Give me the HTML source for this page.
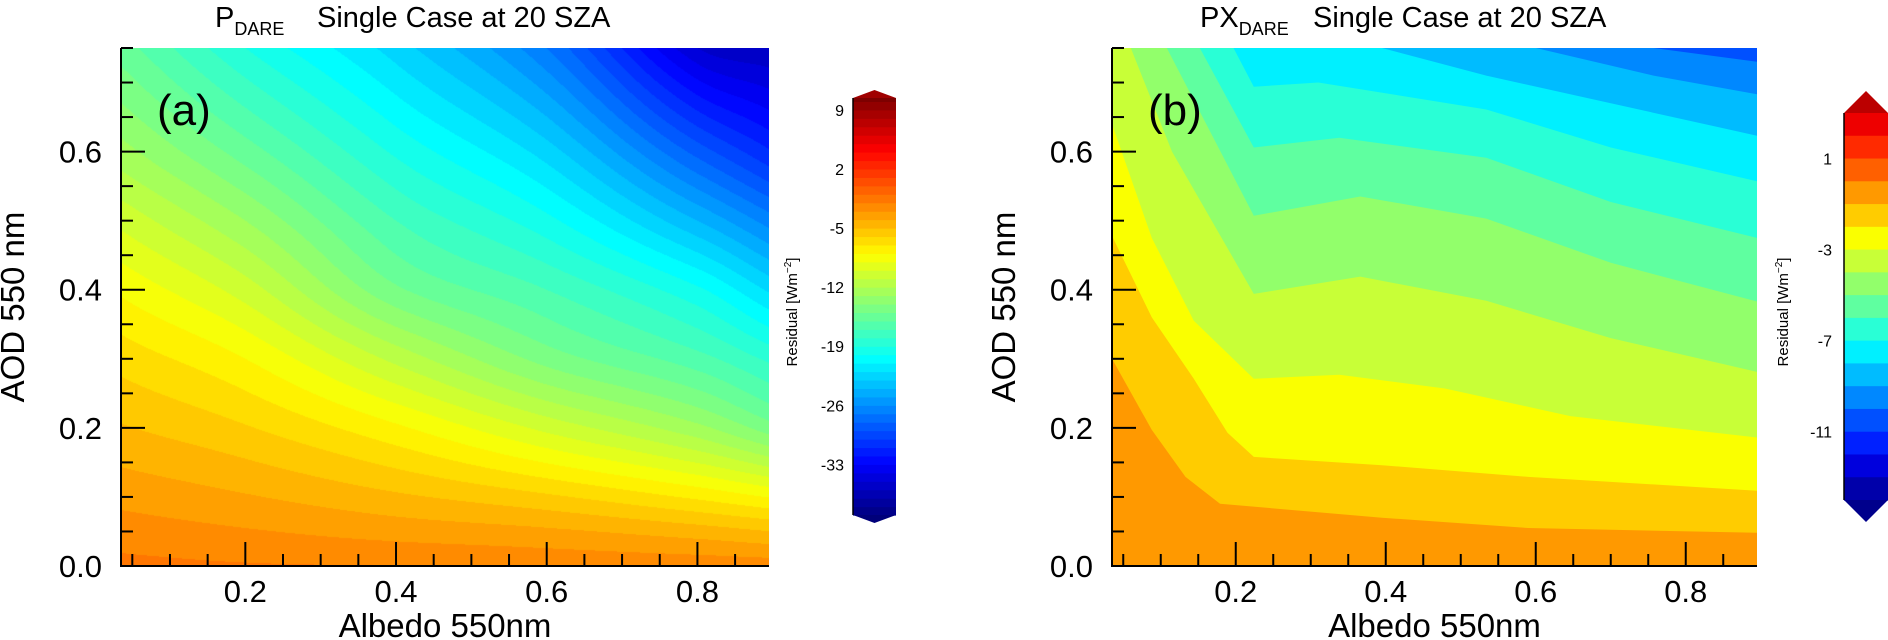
<!DOCTYPE html>
<html><head><meta charset="utf-8"><style>
html,body{margin:0;padding:0;background:#fff;}
#root{position:relative;width:1888px;height:640px;overflow:hidden;font-family:"Liberation Sans",sans-serif;}
canvas{position:absolute;left:121px;top:48px;}
svg{position:absolute;left:0;top:0;}
</style></head><body>
<div id="root">
<canvas id="cva" width="648" height="518"></canvas>
<svg id="svg" width="1888" height="640"></svg>
</div>
<script>
// ---------- Panel (a) data ----------
const albedoA = [0.035, 0.2, 0.4, 0.6, 0.8, 0.9];
const aodA = [0, 0.05, 0.1, 0.2, 0.3, 0.4, 0.5, 0.6, 0.75];
// rows = aod, columns = albedo
const residualA = [
  [-1.7, -1.9, -2.0, -2.2, -2.3, -2.4],
  [-2.5, -2.9, -3.4, -3.8, -4.5, -5.0],
  [-3.3, -3.9, -4.8, -5.8, -7.2, -8.1],
  [-4.9, -5.9, -7.8, -10.3, -12.7, -14.6],
  [-6.4, -8.0, -11.3, -14.4, -16.6, -18.3],
  [-8.2, -10.5, -14.8, -17.0, -19.8, -22.3],
  [-10.3, -13.0, -17.0, -19.7, -24.0, -26.6],
  [-12.6, -15.5, -19.2, -22.5, -28.4, -31.0],
  [-15.5, -19.0, -22.5, -27.0, -35.0, -36.0]
];
const cbarATicks = [9, 2, -5, -12, -19, -26, -33];
const cbarAMin = -39, cbarAMax = 10.4;

// ---------- Panel (b) data ----------
const levelsB = [-1, -2, -3, -4, -5, -6, -7, -8, -9, -10];
const boundaryB1 = [[0.035,0.30],[0.088,0.197],[0.133,0.129],[0.179,0.09],[0.395,0.07],[0.59,0.055],[0.895,0.048]];
const boundaryB2 = [[0.035,0.478],[0.088,0.36],[0.144,0.271],[0.189,0.193],[0.224,0.158],[0.395,0.146],[0.59,0.129],[0.895,0.109]];
const boundaryB3 = [[0.035,0.64],[0.088,0.475],[0.144,0.355],[0.224,0.271],[0.338,0.277],[0.479,0.257],[0.646,0.217],[0.895,0.186]];
const boundaryB4 = [[0.06,0.75],[0.115,0.60],[0.224,0.394],[0.366,0.419],[0.534,0.384],[0.70,0.33],[0.895,0.281]];
const boundaryB5 = [[0.108,0.75],[0.224,0.507],[0.366,0.535],[0.534,0.503],[0.70,0.439],[0.895,0.383]];
const boundaryB6 = [[0.152,0.75],[0.224,0.606],[0.338,0.62],[0.534,0.591],[0.70,0.527],[0.895,0.475]];
const boundaryB7 = [[0.197,0.75],[0.224,0.694],[0.31,0.70],[0.534,0.661],[0.70,0.606],[0.895,0.557]];
const boundaryB8 = [[0.395,0.75],[0.534,0.71],[0.70,0.67],[0.895,0.623]];
const boundaryB9 = [[0.60,0.75],[0.757,0.71],[0.895,0.683]];
const boundaryB10 = [[0.757,0.75],[0.895,0.73]];
const cbarBTicks = [1, -3, -7, -11];
const cbarBMin = -14, cbarBMax = 3;

const NS = "http://www.w3.org/2000/svg";
const svg = document.getElementById('svg');
function el(tag, attrs, parent){const e=document.createElementNS(NS,tag);for(const k in attrs)e.setAttribute(k,attrs[k]);(parent||svg).appendChild(e);return e;}
function txt(s, attrs, parent){const e=el('text',attrs,parent);e.textContent=s;return e;}

function jet(t){const c=v=>Math.max(0,Math.min(1,v));
  return [c(1.5-Math.abs(4*t-3)),c(1.5-Math.abs(4*t-2)),c(1.5-Math.abs(4*t-1))].map(v=>Math.round(v*255));}
function jetCss(t){const c=jet(t);return `rgb(${c[0]},${c[1]},${c[2]})`;}

const XMIN=0.035, XMAX=0.895, YMIN=0, YMAX=0.75;
const axA={l:121,r:769,t:48,b:566};
const axB={l:1112,r:1757,t:48,b:566};
function sx(ax,v){return ax.l+(v-XMIN)/(XMAX-XMIN)*(ax.r-ax.l);}
function sy(ax,v){return ax.b-(v-YMIN)/(YMAX-YMIN)*(ax.b-ax.t);}

// ---- panel a canvas (smooth Catmull-Rom interpolation) ----
(function(){
  const cv=document.getElementById('cva');const ctx=cv.getContext('2d');
  const W=cv.width,H=cv.height;const img=ctx.createImageData(W,H);
  function cr(xs,ys,x){
    let i=0;while(i<xs.length-2&&x>xs[i+1])i++;
    const x0=xs[i],x1=xs[i+1];const t=Math.max(0,Math.min(1,(x-x0)/(x1-x0)));
    const h=x1-x0;
    const m0=i>0?(ys[i+1]-ys[i-1])/(xs[i+1]-xs[i-1]):(ys[i+1]-ys[i])/h;
    const m1=i<xs.length-2?(ys[i+2]-ys[i])/(xs[i+2]-xs[i]):(ys[i+1]-ys[i])/h;
    const t2=t*t,t3=t2*t;
    return (2*t3-3*t2+1)*ys[i]+(t3-2*t2+t)*h*m0+(-2*t3+3*t2)*ys[i+1]+(t3-t2)*h*m1;
  }
  const rowsAtX=[];
  for(let px=0;px<W;px++){
    const alb=XMIN+(px+0.5)/W*(XMAX-XMIN);
    rowsAtX.push(residualA.map(r=>cr(albedoA,r,alb)));
  }
  for(let py=0;py<H;py++){
    const aod=YMAX-(py+0.5)/H*(YMAX-YMIN);
    for(let px=0;px<W;px++){
      const v=cr(aodA,rowsAtX[px],aod);
      const lv=Math.floor(v)+0.5;
      const c=jet((lv-cbarAMin)/(cbarAMax-cbarAMin));
      const k=(py*W+px)*4;img.data[k]=c[0];img.data[k+1]=c[1];img.data[k+2]=c[2];img.data[k+3]=255;
    }
  }
  ctx.putImageData(img,0,0);
})();

// ---- panel b polygons ----
const defs=el('defs',{});
const cp=el('clipPath',{id:'clipB'},defs);
el('rect',{x:axB.l,y:axB.t,width:axB.r-axB.l,height:axB.b-axB.t},cp);
const gB=el('g',{'clip-path':'url(#clipB)'});


const bandColorsB=['#ff9900','#ffcc00','#faff00','#c8ff37','#92ff6b','#5fffa0','#29ffd6','#00f0ff','#00bcff','#0088ff','#0050ff'];
const base=el('rect',{x:axB.l,y:axB.t,width:axB.r-axB.l,height:axB.b-axB.t,fill:bandColorsB[0]},gB);


const boundariesB=[boundaryB1,boundaryB2,boundaryB3,boundaryB4,boundaryB5,boundaryB6,boundaryB7,boundaryB8,boundaryB9,boundaryB10];
boundariesB.forEach((bd,k)=>{
  const pts=bd.map(p=>[p[0],p[1]]);
  const first=pts[0],last=pts[pts.length-1];
  const ext=[];
  if(first[0]<=XMIN+1e-6) ext.unshift([XMIN-0.02,first[1]]);
  const all=ext.concat(pts);
  all.push([XMAX+0.02,last[1]],[XMAX+0.02,0.85],[all[0][0],0.85]);
  const d=all.map(p=>sx(axB,p[0]).toFixed(1)+','+sy(axB,p[1]).toFixed(1)).join(' ');
  const poly=el('polygon',{points:d,fill:bandColorsB[k+1]},gB);
  
  
});

// ---- axes, ticks, labels ----
function drawAxes(ax,name){
  const g=el('g',{stroke:'#000','stroke-width':2,fill:'none'});
  
  
  el('line',{x1:ax.l,y1:ax.t,x2:ax.l,y2:ax.b+1},g);
  el('line',{x1:ax.l-1,y1:ax.b,x2:ax.r,y2:ax.b},g);
  for(let i=0;i<=15;i++){const v=i*0.05;const y=sy(ax,v);const major=(i%4===0);
    el('line',{x1:ax.l,y1:y,x2:ax.l+(major?24:12),y2:y},g);}
  for(let i=1;i<=17;i++){const v=i*0.05;if(v<XMIN)continue;const x=sx(ax,v);const major=(i%4===0);
    el('line',{x1:x,y1:ax.b,x2:x,y2:ax.b-(major?24:12)},g);}
  [0.0,0.2,0.4,0.6].forEach(v=>{const t=txt(v.toFixed(1),{x:ax.l-19,y:sy(ax,v)+11,'font-size':31,'text-anchor':'end',fill:'#000'});
    });
  [0.2,0.4,0.6,0.8].forEach(v=>{const t=txt(v.toFixed(1),{x:sx(ax,v),y:602,'font-size':31,'text-anchor':'middle',fill:'#000'});
    });
  const xt=txt('Albedo 550nm',{x:(ax.l+ax.r)/2,y:637,'font-size':33,'text-anchor':'middle',fill:'#000'});
  
  const yx=ax.l-97;
  const yt=txt('AOD 550 nm',{x:yx,y:307,'font-size':33,'text-anchor':'middle',fill:'#000',transform:`rotate(-90 ${yx} 307)`});
  
}
drawAxes(axA,'panel-a');
drawAxes(axB,'panel-b');

const la=txt('(a)',{x:157,y:125,'font-size':44,fill:'#000'});
const lb=txt('(b)',{x:1148,y:125,'font-size':44,fill:'#000'});

const ta=el('text',{x:215,y:27,'font-size':29,fill:'#000'});

ta.innerHTML='P<tspan font-size="18" dy="8">DARE</tspan><tspan dy="-8" x="317">Single Case at 20 SZA</tspan>';
const tb=el('text',{x:1200,y:27,'font-size':29,fill:'#000'});

tb.innerHTML='PX<tspan font-size="18" dy="8">DARE</tspan><tspan dy="-8" x="1313">Single Case at 20 SZA</tspan>';

(function(){
  const L=853,R=896,T=98,B=515;
  const vy=v=>T+(cbarAMax-v)/(cbarAMax-cbarAMin)*(B-T);
  const g=el('g',{});
  for(let v=cbarAMin;v<cbarAMax;v++){
    const top=Math.min(v+1,cbarAMax);
    const r=el('rect',{x:L,y:vy(top),width:R-L,height:vy(v)-vy(top)+0.6,fill:jetCss((v+0.5-cbarAMin)/(cbarAMax-cbarAMin))},g);
    
  }
  el('polygon',{points:`${L},${T} ${(L+R)/2},${T-8} ${R},${T}`,fill:'#a00000'},g);
  el('polygon',{points:`${L},${B} ${(L+R)/2},${B+8} ${R},${B}`,fill:'#00007a'},g);
  el('line',{x1:L,y1:T,x2:L,y2:B,stroke:'#000','stroke-width':1.5},g);
  cbarATicks.forEach(v=>{const t=txt(String(v),{x:L-9,y:vy(v)+6,'font-size':16,'text-anchor':'end',fill:'#000'},g);
    });
  const ct=el('text',{x:797,y:312,'font-size':15,'text-anchor':'middle',fill:'#000',transform:'rotate(-90 797 312)'},g);
  
  ct.innerHTML='Residual [Wm<tspan font-size="10" dy="-6">−2</tspan><tspan dy="6">]</tspan>';
})();

(function(){
  const L=1844,R=1888,T=113,B=500;
  const vy=v=>T+(cbarBMax-v)/(cbarBMax-cbarBMin)*(B-T);
  const cols=['#ee0000','#ff2a00','#ff6000','#ff9900','#ffcc00','#faff00','#c8ff37','#92ff6b','#5fffa0','#29ffd6','#00f0ff','#00bcff','#0088ff','#0050ff','#0020ff','#0000dd','#0000aa'];
  const g=el('g',{});
  for(let v=cbarBMax-1,i=0;v>=cbarBMin;v--,i++){
    const r=el('rect',{x:L,y:vy(v+1),width:R-L,height:vy(v)-vy(v+1)+0.6,fill:cols[i]},g);
    
  }
  el('polygon',{points:`${L},${T} ${(L+R)/2},${T-22} ${R},${T}`,fill:'#bb0000'},g);
  el('polygon',{points:`${L},${B} ${(L+R)/2},${B+22} ${R},${B}`,fill:'#00008c'},g);
  el('line',{x1:L,y1:T,x2:L,y2:B,stroke:'#000','stroke-width':1.5},g);
  cbarBTicks.forEach(v=>{const t=txt(String(v),{x:L-12,y:vy(v)+6,'font-size':16,'text-anchor':'end',fill:'#000'},g);
    });
  const ct=el('text',{x:1788,y:312,'font-size':15,'text-anchor':'middle',fill:'#000',transform:'rotate(-90 1788 312)'},g);
  
  ct.innerHTML='Residual [Wm<tspan font-size="10" dy="-6">−2</tspan><tspan dy="6">]</tspan>';
})();
</script>
</body></html>
